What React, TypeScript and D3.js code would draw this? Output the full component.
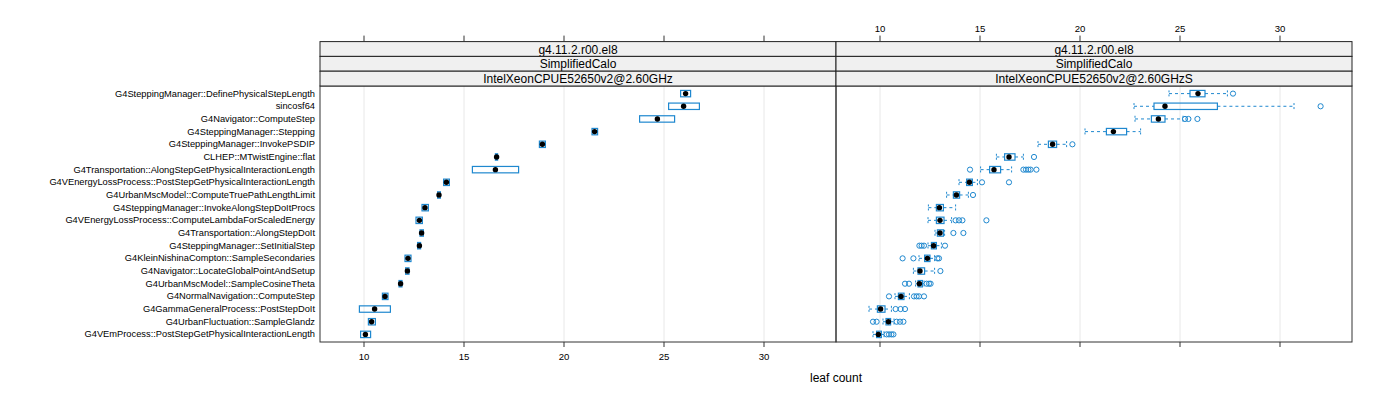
import React from "react";
import * as d3 from "d3";

const categories = [
  "G4SteppingManager::DefinePhysicalStepLength",
  "sincosf64",
  "G4Navigator::ComputeStep",
  "G4SteppingManager::Stepping",
  "G4SteppingManager::InvokePSDIP",
  "CLHEP::MTwistEngine::flat",
  "G4Transportation::AlongStepGetPhysicalInteractionLength",
  "G4VEnergyLossProcess::PostStepGetPhysicalInteractionLength",
  "G4UrbanMscModel::ComputeTruePathLengthLimit",
  "G4SteppingManager::InvokeAlongStepDoItProcs",
  "G4VEnergyLossProcess::ComputeLambdaForScaledEnergy",
  "G4Transportation::AlongStepDoIt",
  "G4SteppingManager::SetInitialStep",
  "G4KleinNishinaCompton::SampleSecondaries",
  "G4Navigator::LocateGlobalPointAndSetup",
  "G4UrbanMscModel::SampleCosineTheta",
  "G4NormalNavigation::ComputeStep",
  "G4GammaGeneralProcess::PostStepDoIt",
  "G4UrbanFluctuation::SampleGlandz",
  "G4VEmProcess::PostStepGetPhysicalInteractionLength",
];

const stripVersion = "g4.11.2.r00.el8";
const stripTest = "SimplifiedCalo";
const stripHosts = ["IntelXeonCPUE52650v2@2.60GHz", "IntelXeonCPUE52650v2@2.60GHzS"];
const xTicks = [10, 15, 20, 25, 30];
const xTitle = "leaf count";

// Left panel (…@2.60GHz)
const leftQ1 = [25.83, 25.23, 23.78, 21.4, 18.77, 16.57, 15.42, 13.98, 13.68, 12.9, 12.6, 12.8, 12.68, 12.05, 12.08, 11.75, 10.92, 9.77, 10.22, 9.83];
const leftMedian = [26.08, 25.98, 24.67, 21.53, 18.92, 16.63, 16.57, 14.12, 13.75, 13.05, 12.77, 12.88, 12.77, 12.2, 12.17, 11.83, 11.05, 10.53, 10.38, 10.07];
const leftQ3 = [26.33, 26.77, 25.53, 21.68, 19.07, 16.68, 17.73, 14.27, 13.82, 13.22, 12.92, 12.97, 12.83, 12.35, 12.25, 11.9, 11.2, 11.32, 10.57, 10.33];

// Right panel (…@2.60GHzS)
const rightLow = [24.45, 22.7, 22.75, 20.25, 17.9, 15.82, 15.03, 13.95, 13.33, 12.42, 12.4, 12.75, 12.4, 11.95, 11.67, 11.78, 10.75, 9.45, 10.15, 9.65];
const rightQ1 = [25.5, 23.7, 23.57, 21.32, 18.42, 16.23, 15.48, 14.33, 13.67, 12.82, 12.82, 12.87, 12.57, 12.23, 11.9, 11.9, 10.92, 9.87, 10.3, 9.83];
const rightMedian = [25.9, 24.25, 23.92, 21.67, 18.63, 16.45, 15.7, 14.47, 13.82, 12.97, 13.0, 13.0, 12.68, 12.37, 12.0, 11.97, 11.05, 10.03, 10.42, 9.92];
const rightQ3 = [26.25, 26.87, 24.25, 22.33, 18.83, 16.75, 16.03, 14.62, 13.98, 13.17, 13.2, 13.17, 12.82, 12.5, 12.23, 12.12, 11.2, 10.25, 10.53, 10.07];
const rightHigh = [27.37, 30.7, 25.15, 23.03, 19.33, 17.17, 16.58, 14.87, 14.42, 13.78, 13.58, 13.23, 13.07, 12.73, 12.73, 12.2, 11.47, 10.57, 10.7, 10.2];
const rightOutliers = [
  [27.65],
  [32.03],
  [25.25, 25.42, 25.87],
  [],
  [19.62],
  [17.7],
  [14.5, 17.17, 17.3, 17.42, 17.53, 17.82],
  [15.1, 16.45],
  [14.65],
  [],
  [13.78, 13.95, 14.12, 15.32],
  [13.67, 14.17],
  [11.97, 12.08, 12.2, 13.25],
  [11.13, 11.67, 12.87, 12.95],
  [13.02],
  [11.25, 11.45, 12.33, 12.45, 12.53],
  [10.45, 11.7, 11.83, 11.95, 12.2],
  [10.78, 11.03, 11.25],
  [9.65, 9.83, 10.83, 11.0, 11.17],
  [10.33, 10.45, 10.57, 10.67],
];

const W = 1400;
const H = 400;
const panelTop = 86;
const panelBottom = 342;
const panelLefts = [320, 836];
const panelW = 516;
const stripH = 14.8;
const stripTop = panelTop - 3 * stripH;
const BLUE = "#1f88cf";
const FONT = "'Liberation Sans', Arial, Helvetica, sans-serif";

type Stat = { lo: number; q1: number; med: number; q3: number; hi: number; out: number[] };

export default function App() {
  const y = d3
    .scalePoint<string>()
    .domain(categories)
    .range([panelTop, panelBottom])
    .padding(0.6);
  const boxH = 6.4;

  const leftStats: Stat[] = categories.map((_, i) => ({
    lo: leftQ1[i], q1: leftQ1[i], med: leftMedian[i], q3: leftQ3[i], hi: leftQ3[i], out: [],
  }));
  const rightStats: Stat[] = categories.map((_, i) => ({
    lo: rightLow[i], q1: rightQ1[i], med: rightMedian[i], q3: rightQ3[i], hi: rightHigh[i], out: rightOutliers[i],
  }));
  const panels = [leftStats, rightStats];

  return (
    <svg
      width={W}
      height={H}
      style={{ position: "fixed", left: 0, top: 0, background: "#fff" }}
      fontFamily={FONT}
    >
      <rect x={0} y={0} width={W} height={H} fill="#fff" />
      {panels.map((stats, p) => {
        const x = d3.scaleLinear().domain([7.8, 33.6]).range([panelLefts[p], panelLefts[p] + panelW]);
        const x0 = panelLefts[p];
        return (
          <g key={p}>
            {xTicks.map((t) => (
              <line key={t} x1={x(t)} x2={x(t)} y1={panelTop} y2={panelBottom} stroke="#e8e8e8" strokeWidth={1} />
            ))}
            {stats.map((s, i) => {
              const cy = y(categories[i])!;
              return (
                <g key={i}>
                  {s.lo < s.q1 && (
                    <>
                      <line x1={x(s.lo)} x2={x(s.q1)} y1={cy} y2={cy} stroke={BLUE} strokeDasharray="3,3" strokeWidth={1} />
                      <line x1={x(s.lo)} x2={x(s.lo)} y1={cy - boxH / 2} y2={cy + boxH / 2} stroke={BLUE} strokeDasharray="2,2" strokeWidth={1} />
                    </>
                  )}
                  {s.hi > s.q3 && (
                    <>
                      <line x1={x(s.q3)} x2={x(s.hi)} y1={cy} y2={cy} stroke={BLUE} strokeDasharray="3,3" strokeWidth={1} />
                      <line x1={x(s.hi)} x2={x(s.hi)} y1={cy - boxH / 2} y2={cy + boxH / 2} stroke={BLUE} strokeDasharray="2,2" strokeWidth={1} />
                    </>
                  )}
                  <rect
                    x={x(s.q1)}
                    y={cy - boxH / 2}
                    width={Math.max(0.5, x(s.q3) - x(s.q1))}
                    height={boxH}
                    fill="none"
                    stroke={BLUE}
                    strokeWidth={1.2}
                  />
                  {s.out.map((o, k) => (
                    <circle key={k} cx={x(o)} cy={cy} r={2.6} fill="none" stroke={BLUE} strokeWidth={1} />
                  ))}
                  <circle cx={x(s.med)} cy={cy} r={2.7} fill="#000" />
                </g>
              );
            })}
            <rect x={x0} y={panelTop} width={panelW} height={panelBottom - panelTop} fill="none" stroke="#333" strokeWidth={1} />
            {[stripVersion, stripTest, stripHosts[p]].map((label, k) => (
              <g key={k}>
                <rect x={x0} y={stripTop + k * stripH} width={panelW} height={stripH} fill="#f0f0f0" stroke="#222" strokeWidth={1} />
                <text
                  x={x0 + panelW / 2}
                  y={stripTop + k * stripH + stripH / 2 + 0.5}
                  textAnchor="middle"
                  dominantBaseline="central"
                  fontSize={12}
                  fill="#000"
                >
                  {label}
                </text>
              </g>
            ))}
            {xTicks.map((t) => (
              <g key={"tt" + t}>
                <line x1={x(t)} x2={x(t)} y1={stripTop} y2={stripTop - 6} stroke="#333" />
                {p === 1 && (
                  <text x={x(t)} y={stripTop - 10} textAnchor="middle" fontSize={9.6} fill="#000">
                    {t}
                  </text>
                )}
              </g>
            ))}
            {xTicks.map((t) => (
              <g key={"bt" + t}>
                <line x1={x(t)} x2={x(t)} y1={panelBottom} y2={panelBottom + 5} stroke="#333" />
                {p === 0 && (
                  <text x={x(t)} y={panelBottom + 18} textAnchor="middle" fontSize={9.6} fill="#000">
                    {t}
                  </text>
                )}
              </g>
            ))}
          </g>
        );
      })}
      {categories.map((c) => (
        <text key={c} x={panelLefts[0] - 5} y={y(c)!} textAnchor="end" dominantBaseline="central" fontSize={9.3} fill="#000">
          {c}
        </text>
      ))}
      <text x={836} y={382} textAnchor="middle" fontSize={12} fill="#000">
        {xTitle}
      </text>
    </svg>
  );
}
